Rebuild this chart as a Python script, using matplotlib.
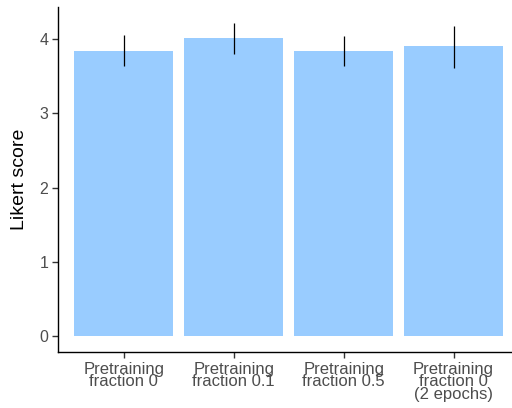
import matplotlib
matplotlib.use("Agg")
import matplotlib.pyplot as plt
import numpy as np

categories = ["Pretraining\nfraction 0", "Pretraining\nfraction 0.1",
              "Pretraining\nfraction 0.5", "Pretraining\nfraction 0\n(2 epochs)"]
means = [3.84, 4.01, 3.84, 3.905]
err_low = [3.63, 3.80, 3.64, 3.61]
err_high = [4.05, 4.21, 4.04, 4.18]

plt.rcParams['font.family'] = ['Liberation Sans', 'DejaVu Sans']

fig = plt.figure(figsize=(5.12, 4.08), dpi=100)
ax = fig.add_axes([58 / 512, 56 / 408, (514 - 58) / 512, (352 - 7) / 408])

x = np.arange(len(categories))
ax.bar(x, means, width=0.9, color='#99CCFF')
ax.vlines(x, err_low, err_high, color='black', linewidth=0.9)

ax.set_xlim(-0.6, 3.55)
ax.set_ylim(-0.21, 4.43)
ax.set_xticks(x)
ax.set_xticklabels(categories, fontsize=12, color='#4D4D4D', linespacing=0.8)
ax.set_yticks([0, 1, 2, 3, 4])
ax.set_yticklabels(['0', '1', '2', '3', '4'], fontsize=11.5, color='#4D4D4D')
ax.set_ylabel('Likert score', fontsize=14, color='black', labelpad=8)

for side in ['top', 'right']:
    ax.spines[side].set_visible(False)
for side in ['left', 'bottom']:
    ax.spines[side].set_linewidth(1.0)
ax.tick_params(axis='both', length=4, width=1.0, color='#333333', pad=3)

plt.savefig("out.png", dpi=100)
plt.close()
